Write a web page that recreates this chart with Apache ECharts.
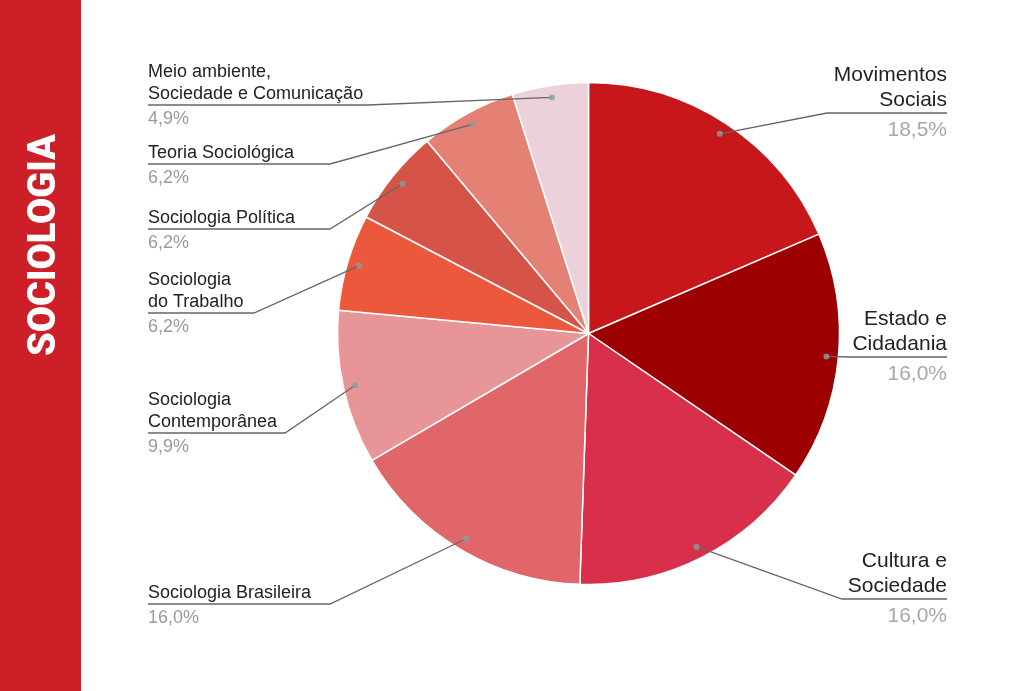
<!DOCTYPE html>
<html>
<head>
<meta charset="utf-8">
<script src="https://cdn.jsdelivr.net/npm/echarts@6/dist/echarts.min.js"></script>
<style>
  html, body { margin: 0; padding: 0; background: #fff; }
  #chart { width: 1024px; height: 691px; }
</style>
</head>
<body>
<div id="chart"></div>
<script>
// dados (fatias no sentido horario a partir do topo)
var names = [
  'Movimentos\nSociais',
  'Estado e\nCidadania',
  'Cultura e\nSociedade',
  'Sociologia Brasileira',
  'Sociologia\nContemporânea',
  'Sociologia\ndo Trabalho',
  'Sociologia Política',
  'Teoria Sociológica',
  'Meio ambiente,\nSociedade e Comunicação'
]
var values = [18.5, 16.0, 16.0, 16.0, 9.9, 6.2, 6.2, 6.2, 4.9]
var colors = ['#c8171b', '#9c0000', '#d82f4a', '#e0666a', '#e89597', '#eb583b', '#d55347', '#e58174', '#ebd1da']

// layout
var CX = 588.5
var CY = 333.5
var R = 251
var DOT = 0.952
var underlineY = [113, 357, 599, 604, 433, 313, 229, 164, 105]
var bendX = [827, 850, 842, 330, 285, 254, 330, 330, 368]

var total = 0
values.forEach(function (v) { total += v })
var mids = []
var acc = 0
values.forEach(function (v) {
  mids.push(acc + v / 2)
  acc += v
})
var isRight = mids.map(function (m) { return m < total / 2 })

function pct (v) {
  return v.toFixed(1).replace('.', ',') + '%'
}

var pieData = names.map(function (n, i) {
  return { name: n, value: values[i], itemStyle: { color: colors[i] } }
})

var chart = echarts.init(document.getElementById('chart'))
var option = {
  animation: false,
  backgroundColor: '#fff',
  graphic: [
    {
      type: 'rect',
      left: 0,
      top: 0,
      shape: { width: 81, height: 691 },
      style: { fill: '#cc1f27' }
    },
    {
      type: 'text',
      x: 45,
      y: 245,
      rotation: Math.PI / 2,
      style: {
        text: 'SOCIOLOGIA',
        fill: '#fff',
        font: '900 38px Roboto, "Liberation Sans", sans-serif',
        align: 'center',
        verticalAlign: 'middle'
      }
    }
  ],
  polar: { center: [CX, CY], radius: R },
  angleAxis: { type: 'value', min: 0, max: total, startAngle: 90, clockwise: true, show: false },
  radiusAxis: { type: 'value', min: 0, max: 1, show: false },
  series: [
    {
      // fatias
      type: 'pie',
      z: 1,
      center: [CX, CY],
      radius: R,
      startAngle: 90,
      clockwise: true,
      silent: true,
      itemStyle: { borderColor: '#fff', borderWidth: 1.5 },
      label: { show: false },
      labelLine: { show: false },
      data: pieData
    },
    {
      // rotulos e linhas por cima das fatias
      type: 'pie',
      z: 10,
      center: [CX, CY],
      radius: R,
      startAngle: 90,
      clockwise: true,
      silent: true,
      avoidLabelOverlap: false,
      itemStyle: { color: 'rgba(0,0,0,0)', borderWidth: 0 },
      data: names.map(function (n, i) { return { name: n, value: values[i] } }),
      label: {
        show: true,
        position: 'outer',
        formatter: function (p) {
          var k = isRight[p.dataIndex] ? 'R' : 'L'
          return '{n' + k + '|' + p.name + '}\n{p' + k + '|' + pct(p.value) + '}'
        },
        rich: {
          nL: { fontFamily: 'Liberation Sans', fontSize: 18, lineHeight: 22, color: '#222' },
          pL: { fontFamily: 'Liberation Sans', fontSize: 18, lineHeight: 29, color: '#9a9a9a' },
          nR: { fontFamily: 'Liberation Sans', fontSize: 21, lineHeight: 25, color: '#222' },
          pR: { fontFamily: 'Liberation Sans', fontSize: 21, lineHeight: 35, color: '#a8a8a8' }
        }
      },
      labelLine: {
        show: true,
        smooth: false,
        lineStyle: { color: '#666', width: 1.3 }
      },
      labelLayout: function (p) {
        var i = p.dataIndex
        var right = isRight[i]
        var lines = names[i].split('\n').length
        var lh = right ? 25 : 22
        var x = right ? 947 : 148
        var a = (90 - mids[i] / total * 360) * Math.PI / 180
        var dot = [CX + R * DOT * Math.cos(a), CY - R * DOT * Math.sin(a)]
        return {
          x: x,
          y: underlineY[i] - lines * lh,
          align: right ? 'right' : 'left',
          verticalAlign: 'top',
          labelLinePoints: [dot, [bendX[i], underlineY[i]], [x, underlineY[i]]]
        }
      }
    },
    {
      type: 'scatter',
      z: 11,
      coordinateSystem: 'polar',
      silent: true,
      symbolSize: 6,
      itemStyle: { color: '#86a0a0' },
      data: mids.map(function (m) { return [DOT, m] })
    }
  ]
}
chart.setOption(option)
</script>
</body>
</html>
